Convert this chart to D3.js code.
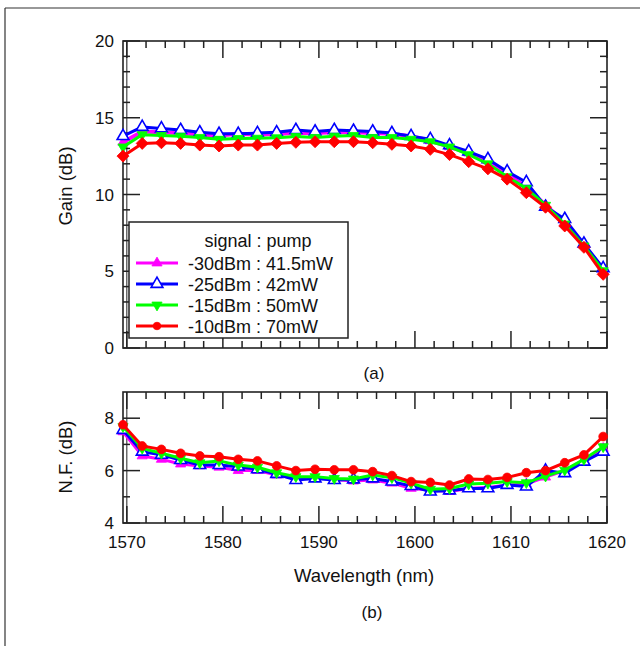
<!DOCTYPE html>
<html>
<head>
<meta charset="utf-8">
<script src="https://cdn.jsdelivr.net/npm/d3@7"></script>
<style>
  html, body { margin: 0; padding: 0; background: #fff; }
  svg { display: block; font-family: "Liberation Sans", Arial, sans-serif; }
</style>
</head>
<body>
<svg id="chart" width="640" height="646"></svg>
<script>
// Wavelength grid of the measurement (nm)
const wavelengths = [1569.6, 1571.6, 1573.6, 1575.6, 1577.6, 1579.6, 1581.6, 1583.6, 1585.6,
  1587.6, 1589.6, 1591.6, 1593.6, 1595.6, 1597.6, 1599.6, 1601.6, 1603.6, 1605.6, 1607.6,
  1609.6, 1611.6, 1613.6, 1615.6, 1617.6, 1619.6];

// Gain (dB) for each signal : pump setting
const gainM30 = [13.4, 14.1, 14.05, 14.0, 13.9, 13.85, 13.95, 13.9, 13.95, 14.0, 14.0, 14.05, 14.05,
  14.0, 13.95, 13.8, 13.5, 13.1, 12.7, 12.2, 11.3, 10.5, 9.3, 8.2, 6.7, 5.0];
const gainM25 = [13.8, 14.4, 14.3, 14.2, 14.05, 13.95, 13.95, 14.0, 14.05, 14.2, 14.1, 14.2, 14.15,
  14.1, 14.0, 13.8, 13.6, 13.2, 12.8, 12.3, 11.5, 10.8, 9.2, 8.4, 6.8, 5.2];
const gainM15 = [13.1, 13.9, 13.85, 13.8, 13.72, 13.6, 13.65, 13.67, 13.7, 13.78, 13.72, 13.8, 13.85,
  13.72, 13.72, 13.6, 13.44, 13.1, 12.6, 12.0, 11.16, 10.4, 9.3, 8.08, 6.65, 5.04];
const gainM10 = [12.5, 13.33, 13.37, 13.33, 13.22, 13.16, 13.22, 13.22, 13.33, 13.4, 13.44, 13.44, 13.44,
  13.37, 13.27, 13.16, 12.94, 12.6, 12.14, 11.67, 11.0, 10.12, 9.17, 7.95, 6.56, 4.8];

// Noise figure (dB) for each signal : pump setting
const nfM30 = [7.48, 6.56, 6.43, 6.25, 6.18, 6.13, 6.0, 6.0, 5.83, 5.7, 5.73, 5.66, 5.6,
  5.64, 5.52, 5.32, 5.26, 5.2, 5.32, 5.36, 5.45, 5.49, 5.75, 6.0, 6.4, 6.85];
const nfM25 = [7.55, 6.72, 6.6, 6.4, 6.21, 6.21, 6.15, 6.05, 5.87, 5.64, 5.7, 5.64, 5.66,
  5.7, 5.58, 5.41, 5.2, 5.24, 5.32, 5.32, 5.45, 5.39, 6.0, 5.9, 6.34, 6.72];
const nfM15 = [7.68, 6.85, 6.66, 6.47, 6.3, 6.37, 6.21, 6.13, 5.92, 5.77, 5.77, 5.7, 5.68,
  5.83, 5.73, 5.52, 5.29, 5.32, 5.49, 5.52, 5.58, 5.54, 5.79, 6.02, 6.43, 6.91];
const nfM10 = [7.75, 6.94, 6.81, 6.66, 6.56, 6.53, 6.43, 6.37, 6.18, 6.0, 6.05, 6.03, 6.03,
  5.96, 5.81, 5.58, 5.55, 5.45, 5.68, 5.66, 5.74, 5.92, 6.0, 6.3, 6.6, 7.3];

const legendTitle = "signal : pump";
const seriesLabels = ["-30dBm : 41.5mW", "-25dBm : 42mW", "-15dBm : 50mW", "-10dBm : 70mW"];
const seriesColors = ["#ff00ff", "#0000ff", "#00ff00", "#ff0000"];

const xTicks = [1570, 1580, 1590, 1600, 1610, 1620];
const gainTicks = [0, 5, 10, 15, 20];
const nfTicks = [4, 6, 8];

const svg = d3.select("#chart");
const axisColor = "#222";
const textColor = "#111";
const tickFont = 17;
const titleFont = 18.5;
const legendFont = 18;

// Page frame
svg.append("line").attr("x1", 5).attr("y1", 8).attr("x2", 640).attr("y2", 8)
  .attr("stroke", "#333").attr("stroke-width", 1.2);
svg.append("line").attr("x1", 5).attr("y1", 8).attr("x2", 5).attr("y2", 646)
  .attr("stroke", "#333").attr("stroke-width", 1.2);

const x = d3.scaleLinear().domain([1569.6, 1620]).range([123, 607]);
const yGain = d3.scaleLinear().domain([0, 20]).range([348, 41]);
const yNF = d3.scaleLinear().domain([4, 9]).range([523, 392]);

const xMinor = d3.range(1572, 1620, 2).filter(v => v % 10 !== 0);

function drawFrame(y, majorY, minorY, labels) {
  const g = svg.append("g");
  const [x0, x1] = x.range();
  const [yb, yt] = y.range();
  const major = 17, minor = 7;
  // ticks on all four sides, pointing inward
  xTicks.forEach(v => {
    g.append("line").attr("x1", x(v)).attr("x2", x(v)).attr("y1", yb).attr("y2", yb - major);
    g.append("line").attr("x1", x(v)).attr("x2", x(v)).attr("y1", yt).attr("y2", yt + major);
  });
  xMinor.forEach(v => {
    g.append("line").attr("x1", x(v)).attr("x2", x(v)).attr("y1", yb).attr("y2", yb - minor);
    g.append("line").attr("x1", x(v)).attr("x2", x(v)).attr("y1", yt).attr("y2", yt + minor);
  });
  majorY.forEach(v => {
    g.append("line").attr("x1", x0).attr("x2", x0 + major).attr("y1", y(v)).attr("y2", y(v));
    g.append("line").attr("x1", x1).attr("x2", x1 - major).attr("y1", y(v)).attr("y2", y(v));
  });
  minorY.forEach(v => {
    g.append("line").attr("x1", x0).attr("x2", x0 + minor).attr("y1", y(v)).attr("y2", y(v));
    g.append("line").attr("x1", x1).attr("x2", x1 - minor).attr("y1", y(v)).attr("y2", y(v));
  });
  g.selectAll("line").attr("stroke", axisColor).attr("stroke-width", 1.5);
  // the 1570 nm guide line just inside the left edge
  g.append("line").attr("x1", x(1570)).attr("x2", x(1570)).attr("y1", yb).attr("y2", yt)
    .attr("stroke", axisColor).attr("stroke-width", 1);
  g.append("rect").attr("x", x0).attr("y", yt).attr("width", x1 - x0).attr("height", yb - yt)
    .attr("fill", "none").attr("stroke", axisColor).attr("stroke-width", 1.6);
  // y tick labels
  labels.forEach(v => {
    svg.append("text").attr("x", 114).attr("y", y(v) + 6)
      .attr("text-anchor", "end").attr("font-size", tickFont).attr("fill", textColor).text(v);
  });
}

drawFrame(yGain, gainTicks, d3.range(1, 20).filter(v => v % 5 !== 0), gainTicks);
drawFrame(yNF, nfTicks, [5, 7], nfTicks);

// x tick labels under the lower panel
xTicks.forEach(v => {
  svg.append("text").attr("x", x(v)).attr("y", 548).attr("text-anchor", "middle")
    .attr("font-size", tickFont).attr("fill", textColor).text(v);
});

// Axis titles
svg.append("text").attr("transform", "translate(72,186) rotate(-90)")
  .attr("text-anchor", "middle").attr("font-size", titleFont).attr("fill", textColor).text("Gain (dB)");
svg.append("text").attr("transform", "translate(72,457) rotate(-90)")
  .attr("text-anchor", "middle").attr("font-size", titleFont).attr("fill", textColor).text("N.F. (dB)");
svg.append("text").attr("x", 364).attr("y", 582).attr("text-anchor", "middle")
  .attr("font-size", titleFont).attr("fill", textColor).text("Wavelength (nm)");
svg.append("text").attr("x", 374).attr("y", 379).attr("text-anchor", "middle")
  .attr("font-size", tickFont).attr("fill", textColor).text("(a)");
svg.append("text").attr("x", 372).attr("y", 618).attr("text-anchor", "middle")
  .attr("font-size", tickFont).attr("fill", textColor).text("(b)");

// Marker shapes
function markerPath(kind, size) {
  if (kind === "diamond") return d3.symbol().type(d3.symbolSquare).size(size)();
  if (kind === "circle") return d3.symbol().type(d3.symbolCircle).size(size)();
  return d3.symbol().type(d3.symbolTriangle).size(size)();
}
function drawMarker(g, kind, cx, cy, color, size) {
  const p = g.append("path").attr("d", markerPath(kind === "triDown" || kind === "triOpen" ? "tri" : kind, size));
  let tr = `translate(${cx},${cy})`;
  if (kind === "diamond") tr += " rotate(45)";
  if (kind === "triDown") tr += " rotate(180)";
  p.attr("transform", tr);
  if (kind === "triOpen") {
    p.attr("fill", "#fff").attr("stroke", color).attr("stroke-width", 1.6);
  } else {
    p.attr("fill", color).attr("stroke", color).attr("stroke-width", 0.8);
  }
}

function drawSeries(y, values, color, kind, size, width) {
  const g = svg.append("g");
  const line = d3.line().x((d, i) => x(wavelengths[i])).y(d => y(d));
  g.append("path").datum(values).attr("d", line).attr("fill", "none")
    .attr("stroke", color).attr("stroke-width", width).attr("stroke-linejoin", "round");
  values.forEach((v, i) => drawMarker(g, kind, x(wavelengths[i]), y(v), color, size));
}

// Upper panel: gain
drawSeries(yGain, gainM30, seriesColors[0], "tri", 45, 4);
drawSeries(yGain, gainM25, seriesColors[1], "triOpen", 60, 3);
drawSeries(yGain, gainM15, seriesColors[2], "triDown", 45, 3);
drawSeries(yGain, gainM10, seriesColors[3], "diamond", 72, 3);

// Lower panel: noise figure
drawSeries(yNF, nfM30, seriesColors[0], "tri", 45, 3);
drawSeries(yNF, nfM25, seriesColors[1], "triOpen", 60, 3);
drawSeries(yNF, nfM15, seriesColors[2], "triDown", 45, 3);
drawSeries(yNF, nfM10, seriesColors[3], "circle", 60, 3);

// Legend
const lg = svg.append("g");
lg.append("rect").attr("x", 129).attr("y", 222).attr("width", 219).attr("height", 116)
  .attr("fill", "#fff").attr("stroke", axisColor).attr("stroke-width", 1.5);
lg.append("text").attr("x", 258).attr("y", 247).attr("text-anchor", "middle")
  .attr("font-size", legendFont).attr("fill", textColor).text(legendTitle);
const legendKinds = ["tri", "triOpen", "triDown", "circle"];
seriesLabels.forEach((lab, i) => {
  const ry = 263 + i * 21;
  lg.append("line").attr("x1", 136).attr("x2", 178).attr("y1", ry).attr("y2", ry)
    .attr("stroke", seriesColors[i]).attr("stroke-width", 3);
  drawMarker(lg, legendKinds[i], 157, ry, seriesColors[i], i === 1 ? 60 : 45);
  lg.append("text").attr("x", 188).attr("y", ry + 6.5).attr("font-size", legendFont)
    .attr("fill", textColor).text(lab);
});
</script>
</body>
</html>
